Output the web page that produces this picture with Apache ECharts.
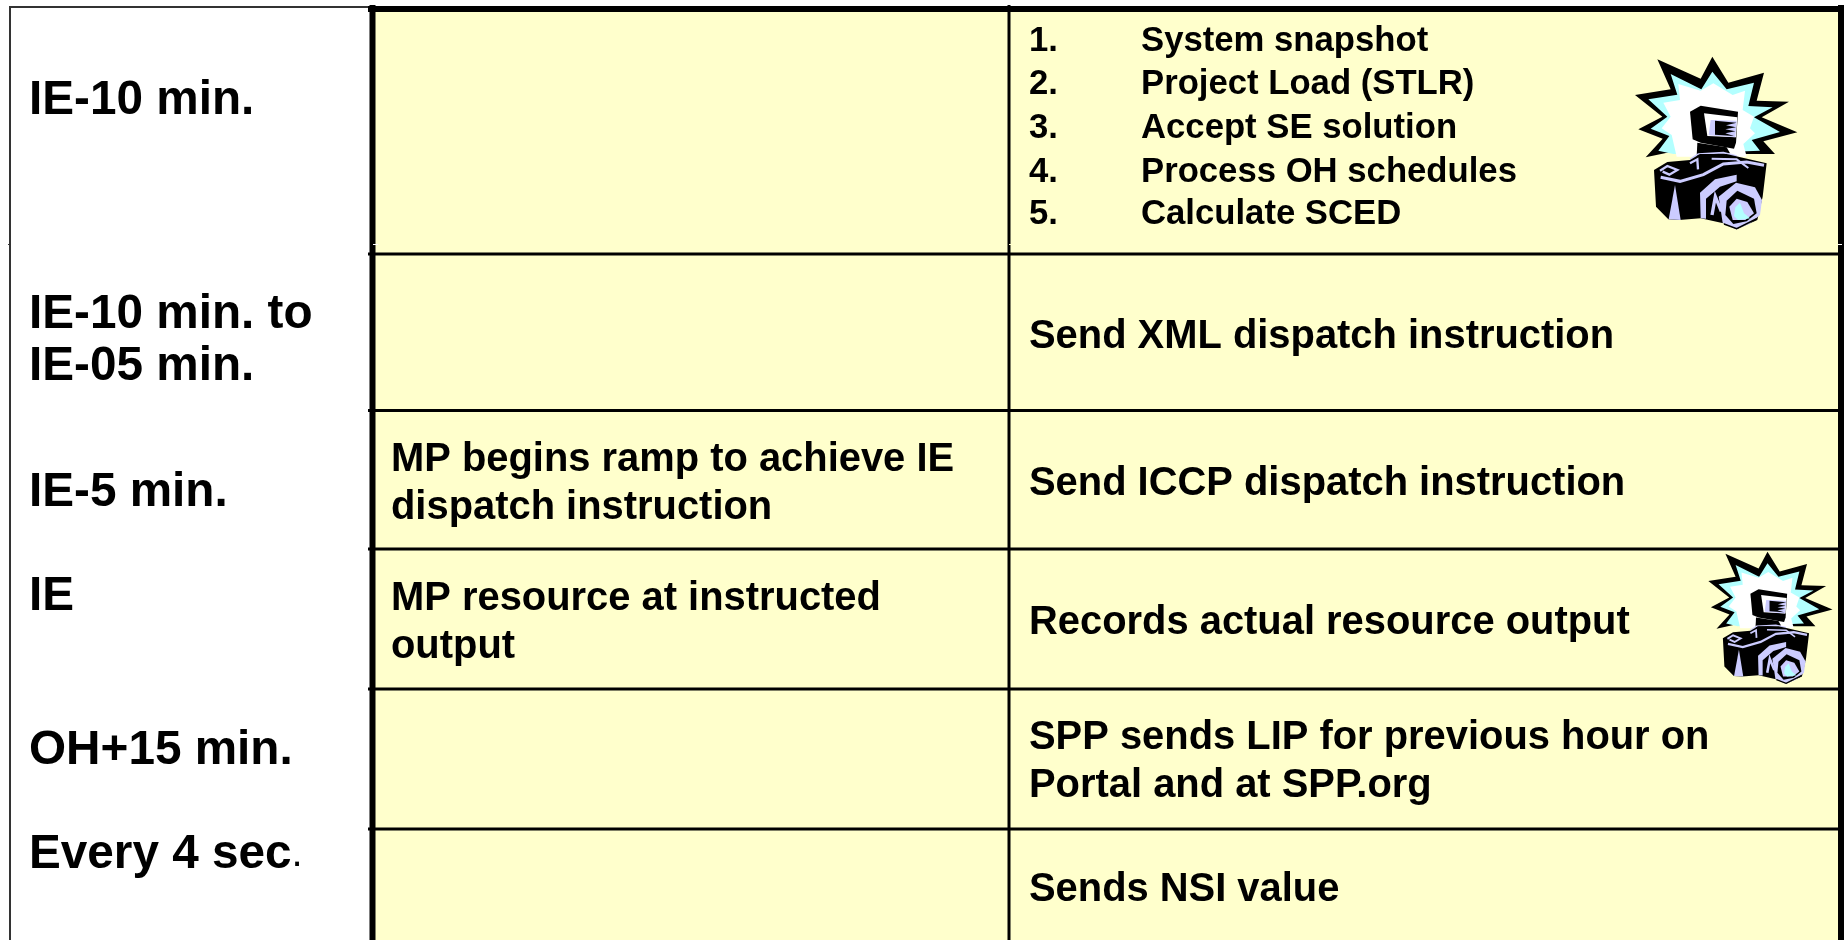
<!DOCTYPE html>
<html>
<head>
<meta charset="utf-8">
<style>
html, body { margin: 0; padding: 0; background: #fff; }
#main { width: 1844px; height: 940px; }
</style>
<script src="https://cdn.jsdelivr.net/npm/echarts@6/dist/echarts.min.js"></script>
</head>
<body>
<div id="main"></div>
<script>
// table content
const timeLabels = ['IE-10 min.', 'IE-10 min. to\nIE-05 min.', 'IE-5 min.', 'IE', 'OH+15 min.', 'Every 4 sec.'];
const mpActions = ['', '', 'MP begins ramp to achieve IE\ndispatch instruction', 'MP resource at instructed\noutput', '', ''];
const sppActions = ['', 'Send XML dispatch instruction', 'Send ICCP dispatch instruction', 'Records actual resource output', 'SPP sends LIP for previous hour on\nPortal and at SPP.org', 'Sends NSI value'];
const checklistNums = ['1.', '2.', '3.', '4.', '5.'];
const checklistSteps = ['System snapshot', 'Project Load (STLR)', 'Accept SE solution', 'Process OH schedules', 'Calculate SCED'];

// layout, in page pixels
const rowEdges = [9, 254, 410.5, 549, 689, 829, 940];
const timeY = [100.5, 340.5, 492.5, 596.5, 750.5, 854.5];
const mpY = [0, 0, 483.5, 622.5, 0, 0];
const sppY = [0, 336.5, 483.5, 623, 762, 889.5];
const checklistY = [41, 84, 128, 172, 214.5];
const colX = { left: 9.5, thick: 372.5, mid: 1009, right: 1838 };
const textX = { time: 29, mp: 391, spp: 1029, num: 1029, step: 1141 };
const FONT = '"Liberation Sans", Arial, sans-serif';

function textEl(x, y, text, size, lineH, extra) {
    return {
        type: 'text',
        style: Object.assign({
            x: x, y: y, text: text, fill: '#000', fontFamily: FONT, fontWeight: 'bold',
            fontSize: size, lineHeight: lineH, align: 'left', verticalAlign: 'middle'
        }, extra || {})
    };
}

function renderRow(params, api) {
    const i = params.dataIndex;
    const [x0, y0] = api.coord([colX.thick, rowEdges[i]]);
    const [x1, y1] = api.coord([colX.right, rowEdges[i + 1]]);
    const kids = [{
        type: 'rect',
        shape: { x: x0, y: y0, width: x1 - x0, height: y1 - y0 },
        style: { fill: '#ffffcc' }
    }];
    if (i === timeLabels.length - 1) {
        kids.push(textEl(textX.time, timeY[i], '{b|Every 4 sec}{r|.}', 47.7, 50, {
            rich: {
                b: { fontFamily: FONT, fontWeight: 'bold', fontSize: 47.7, fill: '#000' },
                r: { fontFamily: FONT, fontWeight: 'normal', fontSize: 40, fill: '#000' }
            }
        }));
    } else {
        kids.push(textEl(textX.time, timeY[i], timeLabels[i], 47.7, 52));
    }
    if (mpActions[i]) kids.push(textEl(textX.mp, mpY[i], mpActions[i], 39.9, 48));
    if (sppActions[i]) kids.push(textEl(textX.spp, sppY[i], sppActions[i], 39.9, 48));
    if (i === 0) {
        checklistNums.forEach((n, k) => {
            kids.push(textEl(textX.num, checklistY[k], n, 34.7, 40));
            kids.push(textEl(textX.step, checklistY[k], checklistSteps[k], 34.7, 40));
        });
    }
    return { type: 'group', children: kids };
}

function line(x1, y1, x2, y2, w, color) {
    return { type: 'line', shape: { x1, y1, x2, y2 }, style: { stroke: color || '#000', lineWidth: w } };
}

function renderFrame() {
    const kids = [
        // white time column frame
        line(10, 6, 10, 940, 2, '#333'),
        line(9, 7, 370, 7, 2, '#333'),
        line(8, 244.5, 10, 244.5, 1, '#333'),
        // thick rules
        line(368, 9, 1844, 9, 6),
        line(372.5, 5, 372.5, 940, 6),
        line(1841, 5, 1841, 940, 6),
        line(1009, 5, 1009, 940, 3),
        line(1009, 244.5, 1012, 244.5, 1, '#ffffcc'),
        line(373, 244.5, 378, 244.5, 1, '#fff'),
        line(1838, 244.5, 1842, 244.5, 1, '#fff')
    ];
    rowEdges.slice(1, -1).forEach(y => kids.push(line(368, y, 1838, y, 3)));
    return { type: 'group', children: kids };
}

// clipart camera, drawn in its own 0-792 box
const C_BLACK = '#000', C_CYAN = '#b3ffff', C_LAV = '#ccccff', C_WHITE = '#fff';
function poly(points, fill) {
    return { type: 'polygon', shape: { points }, style: { fill } };
}
function stroke(points, w, color) {
    return { type: 'polyline', shape: { points }, style: { stroke: color, lineWidth: w, fill: null } };
}
function cameraParts() {
    return [
        poly([[397,170],[445,248],[552,218],[530,302],[627,305],[545,352],[652,397],[550,424],[585,462],[480,462],[290,452],[197,472],[248,416],[175,388],[247,350],[165,285],[272,268],[232,178],[362,236]], C_BLACK),
        poly([[397,215],[440,268],[522,248],[505,318],[578,322],[522,352],[600,396],[515,420],[540,452],[280,462],[235,452],[268,408],[212,386],[262,350],[205,298],[292,284],[272,222],[364,268]], C_CYAN),
        poly([[400,250],[458,285],[495,272],[488,330],[522,350],[510,385],[525,400],[490,432],[500,470],[290,470],[275,405],[245,385],[272,350],[250,308],[300,300],[295,252],[362,272]], C_WHITE),
        // flash head
        poly([[330,335],[362,317],[474,335],[468,428],[462,446],[362,428],[338,418]], C_BLACK),
        poly([[372,340],[472,352],[468,412],[382,408]], C_WHITE),
        poly([[392,360],[470,362],[466,412],[386,406]], C_LAV),
        poly([[405,362],[470,368],[438,376],[468,382],[436,388],[466,394],[436,400],[462,408],[405,404]], C_BLACK),
        poly([[352,428],[440,442],[450,460],[350,470]], C_BLACK),
        stroke([[330,478],[355,462],[430,458],[470,468]], 5, C_LAV),
        // body
        poly([[222,510],[262,486],[330,480],[360,462],[440,462],[475,470],[560,490],[548,590],[532,660],[470,688],[430,670],[362,655],[298,660],[265,658],[228,620]], C_BLACK),
        stroke([[240,512],[262,498],[292,510],[268,524],[248,515]], 7, C_LAV),
        stroke([[242,532],[300,544],[370,524],[430,492],[500,486],[552,496]], 9, C_LAV),
        stroke([[330,490],[352,478],[354,508]], 7, C_LAV),
        stroke([[395,476],[470,478],[505,504]], 6, C_LAV),
        poly([[285,555],[302,660],[266,658]], C_LAV),
        poly([[362,655],[360,578],[405,538],[470,524],[470,544],[420,560],[378,596],[378,656]], C_LAV),
        stroke([[396,645],[406,590],[424,634]], 10, C_LAV),
        // lens
        poly([[416,590],[468,548],[525,562],[546,600],[540,645],[508,672],[468,688],[428,668]], C_LAV),
        poly([[440,602],[472,572],[522,596],[530,640],[500,664],[460,672],[436,645]], C_BLACK),
        poly([[448,620],[470,596],[502,606],[522,640],[496,660],[458,660]], C_LAV),
        poly([[466,622],[480,608],[492,640],[510,655],[474,660],[462,648]], C_CYAN),
        stroke([[432,672],[470,686],[530,656]], 5, C_BLACK)
    ];
}
function cameraIcon(x, y, s) {
    return {
        type: 'group', x: x, y: y, scaleX: s, scaleY: s, silent: true,
        children: cameraParts().map(p => Object.assign(p, { z: 20 }))
    };
}

const chart = echarts.init(document.getElementById('main'), null, { renderer: 'canvas' });
chart.setOption({
    animation: false,
    backgroundColor: '#fff',
    grid: { left: 0, right: 0, top: 0, bottom: 0 },
    xAxis: { type: 'value', min: 0, max: 1844, show: false },
    yAxis: { type: 'value', min: 0, max: 940, inverse: true, show: false },
    tooltip: { show: false },
    series: [
        {
            type: 'custom',
            coordinateSystem: 'cartesian2d',
            clip: false,
            silent: true,
            z: 2,
            data: timeLabels.map((t, i) => [i, t]),
            renderItem: renderRow
        },
        {
            type: 'custom',
            coordinateSystem: 'cartesian2d',
            clip: false,
            silent: true,
            z: 3,
            data: [[0]],
            renderItem: renderFrame
        }
    ],
    graphic: [
        cameraIcon(1580, 0, 1 / 3),
        cameraIcon(1660 + 145 / 3 - 165 * 0.255, 530 + 65 / 3 - 170 * 0.255, 0.255)
    ]
});
</script>
</body>
</html>
